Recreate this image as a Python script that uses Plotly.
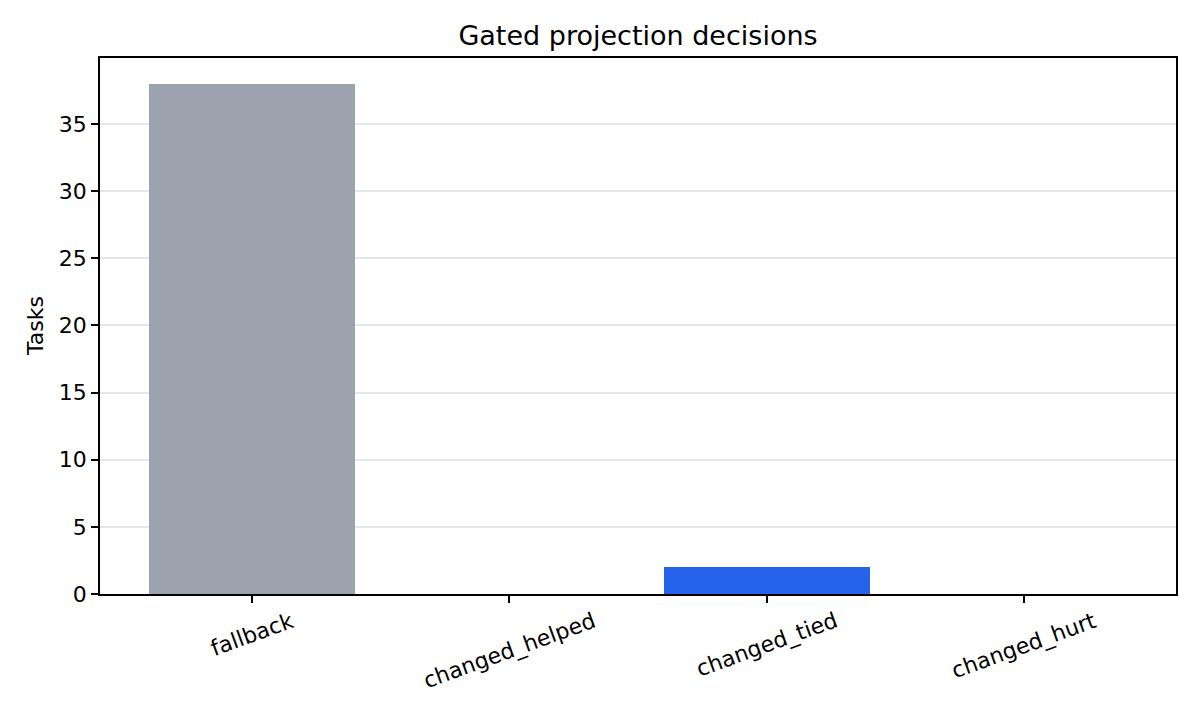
import plotly.graph_objects as go

categories = ["fallback", "changed_helped", "changed_tied", "changed_hurt"]
tasks = [38, 0, 2, 0]
colors = ["#9ca3af", "#16a34a", "#2563eb", "#dc2626"]
y_ticks = [0, 5, 10, 15, 20, 25, 30, 35]

font = "DejaVu Sans, sans-serif"
xpos = list(range(len(categories)))

fig = go.Figure()
fig.add_trace(go.Bar(
    x=xpos,
    y=tasks,
    marker=dict(color=colors, line=dict(width=0)),
    width=0.8,
))

# the page has an 8px body margin; compensate so the plot sits where the reference does
W, H = 1192, 712
fig.update_layout(
    width=W, height=H,
    margin=dict(l=92, r=24, t=50, b=126),
    paper_bgcolor="white", plot_bgcolor="white",
    showlegend=False,
    font=dict(family=font, size=22, color="black"),
    title=dict(text="Gated projection decisions", x=0.5, xanchor="center", xref="paper",
               y=1 - 28 / H, yanchor="middle", font=dict(size=27, family=font)),
    bargap=0,
)
fig.update_xaxes(
    range=[-0.59, 3.59],
    tickmode="array", tickvals=xpos, ticktext=categories,
    showticklabels=False,
    showline=True, linecolor="black", linewidth=1.8, mirror=True,
    ticks="outside", ticklen=7, tickwidth=1.8, tickcolor="black",
    showgrid=False, zeroline=False,
)
fig.update_yaxes(
    range=[0, 39.9],
    tickmode="array", tickvals=y_ticks,
    showline=True, linecolor="black", linewidth=1.8, mirror=True,
    ticks="outside", ticklen=7, tickwidth=1.8, tickcolor="black",
    showgrid=True, gridcolor="rgba(200,200,200,0.45)", gridwidth=1.5,
    zeroline=False, layer="above traces",
    tickfont=dict(size=22, family=font),
)

# rotated category labels centred under their ticks (matplotlib style)
for xv, lab in zip(xpos, categories):
    fig.add_annotation(
        x=xv, xref="x", y=0, yref="paper",
        text=lab, textangle=-20, showarrow=False,
        xanchor="center", yanchor="top", yshift=-11,
        font=dict(size=22, family=font, color="black"),
    )

fig.add_annotation(
    x=0, xref="paper", y=0.5, yref="paper", xshift=-65,
    text="Tasks", textangle=-90, showarrow=False,
    xanchor="center", yanchor="middle",
    font=dict(size=22, family=font, color="black"),
)

fig.write_html("out.html")
